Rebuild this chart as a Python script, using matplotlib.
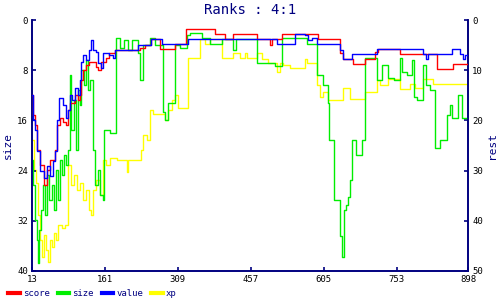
import matplotlib
matplotlib.use("Agg")
import matplotlib.pyplot as plt

# x positions are the turn numbers (13 .. 898); series drawn as step lines
score_x = [13, 15, 19, 23, 29, 37, 43, 50, 60, 64, 70, 76, 82, 86, 90, 100, 106, 110, 112, 117,
           123, 129, 137, 143, 147, 153, 157, 163, 169, 181, 232, 242, 255, 273, 303, 326, 384,
           405, 421, 470, 492, 496, 500, 521, 594, 638, 644, 665, 689, 709, 715, 760, 835, 868, 898]
score_y = [14.9, 18.9, 20.9, 25.9, 28.9, 32.9, 29.9, 27.9, 25.9, 20.9, 19.5, 20.3, 20.9, 17.9,
           16.5, 14.9, 15.9, 14.9, 11.9, 9.9, 8.9, 8.3, 8.3, 9.3, 9.9, 8.3, 8.3, 7.5, 6.5, 5.9,
           5.5, 4.9, 3.7, 5.7, 4.7, 1.7, 2.7, 3.7, 2.7, 3.7, 3.7, 4.9, 3.7, 2.7, 3.7, 6.5, 7.7,
           8.7, 7.7, 6.3, 5.7, 6.7, 9.7, 8.7, 8.7]

size_x = [13, 15, 19, 23, 25, 27, 31, 35, 39, 43, 48, 54, 58, 62, 66, 70, 74, 78, 82, 86, 90,
          92, 98, 102, 106, 110, 112, 119, 123, 127, 131, 137, 141, 147, 151, 157, 159, 171, 184,
          192, 200, 208, 216, 228, 232, 238, 253, 263, 279, 283, 289, 303, 313, 328, 334, 358,
          374, 399, 421, 427, 470, 506, 521, 571, 592, 604, 614, 616, 626, 638, 642, 646, 650,
          655, 659, 663, 671, 683, 689, 713, 724, 736, 748, 760, 764, 774, 784, 788, 794, 807,
          813, 821, 831, 841, 855, 862, 866, 878, 886, 898]
size_y = [22.3, 26.3, 31.9, 35.1, 38.8, 33.5, 30.3, 26.3, 31.1, 24.7, 28.7, 26.3, 30.3, 23.9,
          28.7, 22.3, 24.7, 21.5, 23.1, 20.7, 8.7, 17.5, 12.7, 20.7, 11.1, 13.5, 7.9, 10.3, 6.3,
          11.1, 9.5, 20.7, 26.3, 23.9, 27.9, 28.7, 17.5, 18.0, 2.8, 4.4, 3.1, 4.7, 3.1, 5.2, 9.5,
          3.9, 2.8, 3.9, 14.6, 15.9, 13.2, 3.9, 4.4, 2.3, 2.0, 2.8, 3.8, 3.0, 4.7, 3.0, 6.8, 7.3,
          2.8, 3.8, 8.7, 10.3, 13.2, 19.1, 28.7, 34.5, 37.8, 30.3, 29.5, 28.2, 25.5, 19.1, 21.5,
          19.1, 6.0, 9.5, 7.1, 9.2, 9.5, 6.0, 8.2, 8.7, 6.3, 12.2, 12.7, 7.1, 10.3, 11.1, 20.4,
          19.1, 15.1, 13.5, 15.6, 11.9, 15.6, 15.9]

value_x = [13, 15, 19, 23, 29, 37, 43, 50, 56, 60, 64, 68, 76, 82, 86, 90, 94, 100, 106, 110,
           112, 117, 123, 129, 133, 137, 143, 147, 153, 157, 163, 169, 177, 181, 228, 255, 277,
           330, 510, 547, 567, 573, 581, 592, 638, 644, 663, 713, 807, 813, 817, 866, 882, 888,
           892, 898]
value_y = [15, 20, 22, 26, 30, 31.5, 29, 31, 28, 26, 20, 15.5, 17, 19.5, 18, 15, 16, 13.5, 15,
           12, 8.3, 7, 8, 6, 4, 6, 6.3, 8.5, 9.5, 6.5, 6.5, 7, 7.5, 6, 5, 3.7, 4.7, 3.7, 4.7,
           2.7, 2.9, 4, 3.5, 4.7, 6, 7.7, 6.7, 5.7, 6.7, 7.7, 6.7, 5.7, 6.7, 7.7, 7, 7.7]

xp_x = [13, 17, 21, 25, 29, 33, 37, 41, 45, 50, 54, 58, 62, 66, 74, 80, 86, 92, 98, 104, 110,
        117, 123, 129, 133, 137, 143, 151, 157, 163, 171, 186, 202, 206, 208, 232, 234, 238,
        246, 253, 259, 279, 283, 289, 297, 303, 309, 324, 330, 354, 364, 374, 399, 421, 435,
        445, 449, 470, 480, 492, 510, 516, 523, 537, 567, 571, 592, 598, 604, 614, 644, 659,
        689, 713, 720, 736, 760, 780, 790, 807, 827, 898]
xp_y = [23.9, 29.9, 32.5, 38.9, 43.9, 47.3, 42.9, 45.9, 48.3, 43.9, 45.3, 42.5, 43.9, 40.9,
        41.5, 40.9, 28.9, 32.9, 30.9, 33.9, 32.5, 35.9, 33.9, 37.9, 38.9, 33.9, 31.9, 34.9,
        27.9, 28.9, 27.5, 27.9, 27.9, 30.3, 27.9, 27.9, 25.9, 22.9, 23.9, 17.9, 18.7, 18.7,
        19.9, 17.9, 15.9, 14.9, 17.5, 17.5, 7.5, 3.7, 4.7, 3.7, 7.5, 6.5, 7.5, 6.5, 7.5, 6.5,
        7.7, 8.5, 10.3, 8.5, 8.9, 9.5, 7.7, 8.5, 12.9, 15.3, 14.3, 15.9, 13.5, 15.7, 14.3,
        11.9, 12.9, 11.7, 13.7, 12.7, 13.5, 11.7, 12.7, 12.7]

x_ticks = [13, 161, 309, 457, 605, 753, 898]
left_ticks = [0, 8, 16, 24, 32, 40]
right_ticks = [0, 10, 20, 30, 40, 50]

navy = "#000080"
mono = "DejaVu Sans Mono"

fig = plt.figure(figsize=(5, 3), dpi=100)
ax = fig.add_axes([0.064, 0.098, 0.872, 0.834])
ax2 = ax.twinx()

# xp sits behind everything, size on top of it, score/value on top
ax2.step(xp_x, xp_y, where="post", color="#ffff00", lw=1.0)
ax.step(size_x, size_y, where="post", color="#00ee00", lw=1.0)
ax3 = ax.twinx()
ax3.set_ylim(50, 0)
ax3.axis("off")
ax3.step(score_x, score_y, where="post", color="#ff0000", lw=1.0)
ax3.step(value_x, value_y, where="post", color="#0000ff", lw=1.0)
ax.set_zorder(ax2.get_zorder() + 1)
ax.patch.set_visible(False)
ax3.set_zorder(ax.get_zorder() + 1)

ax.set_xlim(13, 898)
ax.set_ylim(40, 0)
ax2.set_ylim(50, 0)
ax.set_xticks(x_ticks)
ax.set_yticks(left_ticks)
ax2.set_yticks(right_ticks)

for a in (ax, ax2):
    a.spines["top"].set_visible(False)
    for side in ("left", "right", "bottom"):
        a.spines[side].set_color(navy)
        a.spines[side].set_linewidth(1.2)
    a.tick_params(direction="in", length=3, width=1.2, color=navy, labelsize=6.5, pad=3)
    for lab in a.get_xticklabels() + a.get_yticklabels():
        lab.set_family(mono)

ax.set_ylabel("size", family=mono, fontsize=8, color=navy, labelpad=3)
ax2.set_ylabel("rest", family=mono, fontsize=8, color=navy, labelpad=3, rotation=90)
fig.suptitle("Ranks : 4:1", family=mono, fontsize=10, color=navy, y=0.99)

handles = [plt.Line2D([], [], color=c, lw=3) for c in ("#ff0000", "#00ee00", "#0000ff", "#ffff00")]
fig.legend(handles, ["score", "size", "value", "xp"], loc="lower left",
           bbox_to_anchor=(0.0, -0.02), ncol=4, frameon=False, handlelength=1.3,
           handletextpad=0.3, columnspacing=0.9, labelcolor=navy,
           prop={"family": mono, "size": 6.5})

fig.savefig("out.png", dpi=100)
